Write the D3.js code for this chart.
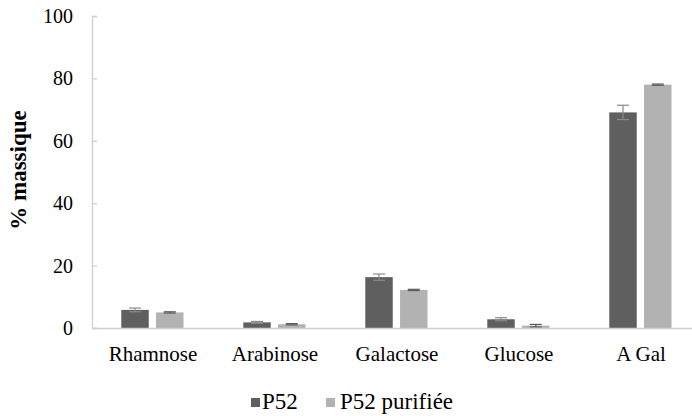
<!DOCTYPE html>
<html>
<head>
<meta charset="utf-8">
<script src="https://cdn.jsdelivr.net/npm/d3@7"></script>
<style>
  html, body { margin: 0; padding: 0; background: #fff; }
  svg { display: block; }
</style>
</head>
<body>
<svg id="chart" width="692" height="416"></svg>
<script>
const categories = ["Rhamnose", "Arabinose", "Galactose", "Glucose", "A Gal"];
const seriesNames = ["P52", "P52 purifiée"];
const p52Values = [5.8, 1.8, 16.3, 2.8, 69.1];
const p52Errors = [0.6, 0.3, 1.0, 0.5, 2.3];
const purValues = [5.0, 1.2, 12.2, 0.75, 78.0];
const purErrors = [0.2, 0.2, 0.2, 0.4, 0.2];
const yTicks = [0, 20, 40, 60, 80, 100];

const colors = { "P52": "#5f5f5f", "P52 purifiée": "#b2b2b2" };
const errColors = { "P52": "#8a8a8a", "P52 purifiée": "#5a5a5a" };
const FONT = "Liberation Serif";

const svg = d3.select("#chart");
const mLeft = 92, mRight = 702, mTop = 16, mBottom = 328;

const x = d3.scaleBand().domain(categories).range([mLeft, mRight]).padding(0);
const bw = x.bandwidth();
const xInner = d3.scaleBand().domain(seriesNames)
  .range([bw * 0.24, bw * 0.75]).paddingInner(0.21).paddingOuter(0);
const y = d3.scaleLinear().domain([0, 100]).range([mBottom, mTop]);

const data = [];
categories.forEach((c, i) => {
  data.push({ cat: c, s: "P52", v: p52Values[i], e: p52Errors[i] });
  data.push({ cat: c, s: "P52 purifiée", v: purValues[i], e: purErrors[i] });
});

// bars
svg.append("g").selectAll("rect").data(data).join("rect")
  .attr("x", d => x(d.cat) + xInner(d.s))
  .attr("y", d => y(d.v))
  .attr("width", xInner.bandwidth())
  .attr("height", d => y(0) - y(d.v))
  .attr("fill", d => colors[d.s]);

// error bars
const eg = svg.append("g");
data.forEach(d => {
  const cx = x(d.cat) + xInner(d.s) + xInner.bandwidth() / 2;
  const y1 = y(d.v + d.e), y2 = y(Math.max(0, d.v - d.e));
  const col = errColors[d.s];
  eg.append("line").attr("x1", cx).attr("x2", cx).attr("y1", y1).attr("y2", y2)
    .attr("stroke", col).attr("stroke-width", 1.2);
  [y1, y2].forEach(yy => eg.append("line")
    .attr("x1", cx - 6).attr("x2", cx + 6).attr("y1", yy).attr("y2", yy)
    .attr("stroke", col).attr("stroke-width", 1.2));
});

// y axis
const yAxis = d3.axisRight(y).tickValues(yTicks).tickSize(5).tickFormat("");
const yg = svg.append("g").attr("transform", `translate(${mLeft},0)`).call(yAxis);
yg.select(".domain").attr("stroke", "#d0d0d0").attr("stroke-width", 1.3);
yg.selectAll(".tick line").attr("stroke", "#d0d0d0").attr("stroke-width", 1.3);

const txt = sel => sel.attr("font-family", FONT).attr("fill", "#000");

svg.append("g").selectAll("text").data(yTicks).join("text")
  .call(txt)
  .attr("x", 73).attr("y", d => y(d)).attr("dy", "0.35em")
  .attr("text-anchor", "end").attr("font-size", 20).text(d => d);

// x axis
const xAxis = d3.axisBottom(x).tickSize(0).tickFormat("");
const xg = svg.append("g").attr("transform", `translate(0,${mBottom})`).call(xAxis);
xg.select(".domain").attr("stroke", "#d0d0d0").attr("stroke-width", 1.3);

svg.append("g").selectAll("text").data(categories).join("text")
  .call(txt)
  .attr("x", d => x(d) + bw / 2).attr("y", 361)
  .attr("text-anchor", "middle").attr("font-size", 21).text(d => d);

// y label
svg.append("text").call(txt)
  .attr("transform", "translate(26,170) rotate(-90)")
  .attr("text-anchor", "middle").attr("font-size", 23).attr("font-weight", "bold")
  .text("% massique");

// legend
const legendItems = [{ s: "P52", x: 251, tx: 262 }, { s: "P52 purifiée", x: 326, tx: 340 }];
const lg = svg.append("g");
legendItems.forEach(it => {
  lg.append("rect").attr("x", it.x).attr("y", 398).attr("width", 9).attr("height", 9)
    .attr("fill", colors[it.s]);
  lg.append("text").call(txt).attr("x", it.tx).attr("y", 409).attr("font-size", 23).text(it.s);
});
</script>
</body>
</html>
